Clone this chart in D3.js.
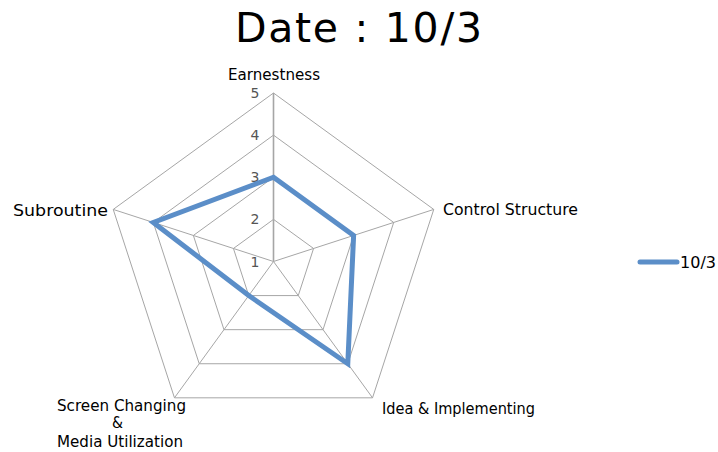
<!DOCTYPE html>
<html><head><meta charset="utf-8">
<script src="https://cdn.jsdelivr.net/npm/d3@7"></script>
<style>body{margin:0;background:#fff}svg{display:block}</style>
</head><body>
<svg id="chart" width="718" height="452"></svg>
<script>
const categories = ["Earnestness", "Control Structure", "Idea & Implementing", "Screen Changing\n&\nMedia Utilization", "Subroutine"];
const seriesName = "10/3";
const values = [3, 3, 4, 2, 4];
const ticks = [1, 2, 3, 4, 5];
const title = "Date : 10/3";

const svg = d3.select("#chart");
const cx = 273.5, cy = 261.5, R = 168.5;
const font = "'DejaVu Sans', sans-serif";
const r = d3.scaleLinear().domain([1, 5]).range([0, R]);
const ang = d3.scaleLinear().domain([0, categories.length]).range([0, 2 * Math.PI]);
const pt = (i, v) => [cx + r(v) * Math.sin(ang(i)), cy - r(v) * Math.cos(ang(i))];

svg.append("text").attr("x", 358.5).attr("y", 42).attr("text-anchor", "middle")
  .attr("font-family", font).attr("font-size", 41).attr("fill", "#000")
  .attr("textLength", 247).attr("lengthAdjust", "spacing").text(title);

const g = svg.append("g");
// rings
ticks.slice(1).forEach(t => {
  g.append("path").attr("d", d3.line()(categories.map((c, i) => pt(i, t))) + "Z")
    .attr("fill", "none").attr("stroke", "#a6a6a6").attr("stroke-width", 1);
});
// spokes
categories.forEach((c, i) => {
  const [x, y] = pt(i, 5);
  g.append("line").attr("x1", cx).attr("y1", cy).attr("x2", x).attr("y2", y)
    .attr("stroke", "#a6a6a6").attr("stroke-width", i === 0 ? 1.6 : 1);
});
// tick labels
ticks.forEach(t => {
  g.append("text").attr("x", cx - 18.5).attr("y", cy - r(t) + 5).attr("text-anchor", "middle")
    .attr("font-family", font).attr("font-size", 14).attr("fill", "#555").text(t);
});
// series
g.append("path").attr("d", d3.line()(values.map((v, i) => pt(i, v))) + "Z")
  .attr("fill", "none").attr("stroke", "#5b8ec8").attr("stroke-width", 5).attr("stroke-linejoin", "miter");

// category labels: each line with its position and width
const labelLines = [
  [{x: 274, y: 80, anchor: "middle", w: 92}],
  [{x: 443, y: 215, anchor: "start", w: 135}],
  [{x: 382, y: 414, anchor: "start", w: 153}],
  [{x: 57, y: 411, anchor: "start", w: 129}, {x: 117.5, y: 428, anchor: "middle", w: 11}, {x: 57, y: 447, anchor: "start", w: 126}],
  [{x: 13, y: 216, anchor: "start", w: 95}]
];
categories.forEach((c, i) => {
  c.split("\n").forEach((line, k) => {
    const p = labelLines[i][k];
    g.append("text").attr("x", p.x).attr("y", p.y).attr("text-anchor", p.anchor)
      .attr("font-family", font).attr("font-size", 15).attr("fill", "#000")
      .attr("textLength", p.w).attr("lengthAdjust", "spacingAndGlyphs").text(line);
  });
});

// legend
svg.append("line").attr("x1", 640).attr("y1", 262).attr("x2", 677).attr("y2", 262)
  .attr("stroke", "#5b8ec8").attr("stroke-width", 5).attr("stroke-linecap", "round");
svg.append("text").attr("x", 680).attr("y", 268).attr("font-family", font).attr("font-size", 15)
  .attr("fill", "#000").attr("textLength", 36).attr("lengthAdjust", "spacingAndGlyphs").text(seriesName);
</script>
</body></html>
